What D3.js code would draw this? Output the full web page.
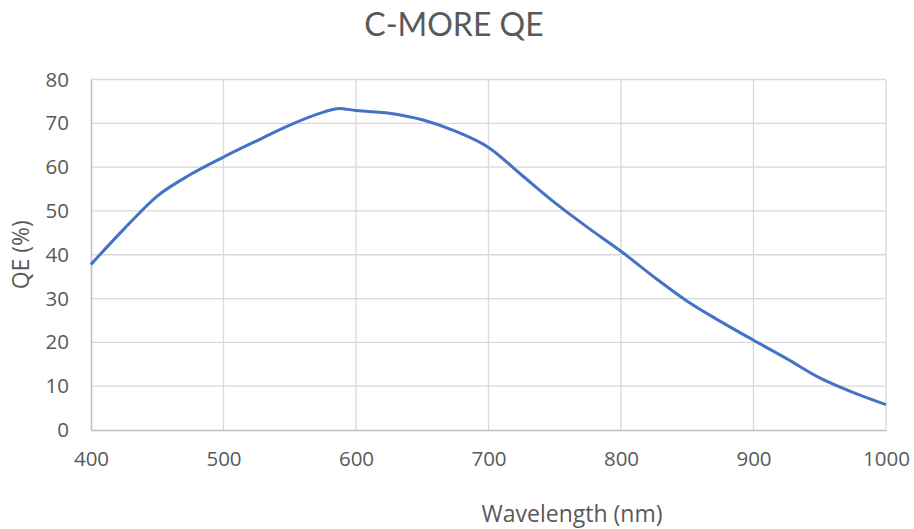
<!DOCTYPE html>
<html><head><meta charset="utf-8">
<script src="https://cdn.jsdelivr.net/npm/d3@7"></script>
<style>
html,body{margin:0;padding:0;background:#fff;}
svg{display:block;}
</style></head>
<body>
<script>
const wavelengths = [400, 425, 450, 475, 500, 525, 550, 575, 587, 600, 625, 650, 675, 700, 725, 750, 775, 800, 825, 850, 875, 900, 925, 950, 975, 1000];
const qeValues   = [37.8, 45.9, 53.4, 58.3, 62.3, 66.0, 69.6, 72.5, 73.4, 72.9, 72.3, 70.8, 68.2, 64.5, 58.2, 51.9, 46.2, 40.8, 34.9, 29.4, 24.8, 20.5, 16.3, 11.9, 8.6, 5.8];
const xTicks = [400, 500, 600, 700, 800, 900, 1000];
const yTicks = [0, 10, 20, 30, 40, 50, 60, 70, 80];
const title = "C-MORE QE";
const xTitle = "Wavelength (nm)";
const yTitle = "QE (%)";

const W = 914, H = 529;
const mLeft = 91, mRight = 886, mTop = 79.5, mBottom = 430;
const font = "'Open Sans', 'Segoe UI', sans-serif";
const textColor = "#595959";

const svg = d3.select("body").append("svg").attr("width", W).attr("height", H);

const x = d3.scaleLinear().domain([400, 1000]).range([mLeft, mRight]);
const y = d3.scaleLinear().domain([0, 80]).range([mBottom, mTop]);

// grid
svg.append("g").selectAll("line").data(yTicks.filter(d => d > 0)).join("line")
  .attr("x1", mLeft).attr("x2", mRight)
  .attr("y1", d => y(d)).attr("y2", d => y(d))
  .attr("stroke", "#d9d9d9").attr("stroke-width", 1.3);
svg.append("g").selectAll("line").data(xTicks.filter(d => d > 400)).join("line")
  .attr("x1", d => x(d)).attr("x2", d => x(d))
  .attr("y1", mTop).attr("y2", mBottom)
  .attr("stroke", "#d9d9d9").attr("stroke-width", 1.3);

// axes
const xAxis = svg.append("g").attr("transform", `translate(0,${mBottom})`)
  .call(d3.axisBottom(x).tickValues(xTicks).tickSize(0).tickPadding(21).tickFormat(d3.format("d")));
const yAxis = svg.append("g").attr("transform", `translate(${mLeft},0)`)
  .call(d3.axisLeft(y).tickValues(yTicks).tickSize(0).tickPadding(22).tickFormat(d3.format("d")));
[xAxis, yAxis].forEach(a => {
  a.select(".domain").attr("stroke", "#bfbfbf").attr("stroke-width", 1.5);
  a.selectAll("text").attr("fill", textColor).style("font-family", font).style("font-size", "20.5px");
});

// line
const line = d3.line().x((d, i) => x(wavelengths[i])).y(d => y(d)).curve(d3.curveMonotoneX);
svg.append("path").datum(qeValues).attr("d", line)
  .attr("fill", "none").attr("stroke", "#4472c4").attr("stroke-width", 3).attr("stroke-linejoin", "round");

// titles
svg.append("text").attr("x", 454).attr("y", 36).attr("text-anchor", "middle")
  .attr("fill", textColor).style("font-family", "Lato, 'Open Sans', sans-serif").style("font-size", "32px").text(title);
svg.append("text").attr("x", 572).attr("y", 522).attr("text-anchor", "middle")
  .attr("fill", textColor).style("font-family", font).style("font-size", "23px").text(xTitle);
svg.append("text").attr("transform", `translate(29,${(mTop + mBottom) / 2}) rotate(-90)`).attr("text-anchor", "middle")
  .attr("fill", textColor).style("font-family", font).style("font-size", "23px").text(yTitle);
</script>
</body></html>
